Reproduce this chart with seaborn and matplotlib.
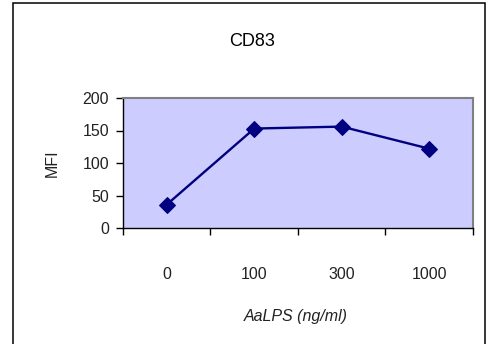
import matplotlib
matplotlib.use("Agg")
import matplotlib.pyplot as plt
import seaborn as sns
import pandas as pd
from matplotlib.patches import Rectangle

categories = ["0", "100", "300", "1000"]
mfi = [36, 153, 156, 122]
y_ticks = [0, 50, 100, 150, 200]

sns.set_theme(style="white")
plt.rcParams['font.family'] = ['Liberation Sans', 'DejaVu Sans']

W, H = 489, 344
fig = plt.figure(figsize=(W / 100, H / 100), dpi=100)
fig.patch.set_facecolor("white")

# figure frame
fig.patches.append(Rectangle((13 / W, -0.05), (485 - 13) / W, 1.05 - 3 / H,
                             transform=fig.transFigure, fill=False,
                             edgecolor="black", linewidth=1.1, zorder=0))

left, right, top, bottom = 123, 473, 98, 228
ax = fig.add_axes([left / W, 1 - bottom / H, (right - left) / W, (bottom - top) / H])
ax.set_facecolor("#CCCCFF")

df = pd.DataFrame({"dose": categories, "MFI": mfi})
sns.lineplot(data=df, x="dose", y="MFI", ax=ax, color="#000080", linewidth=1.7,
             marker="D", markersize=8, markeredgecolor="#000080")

ax.set_xlim(-0.5, len(categories) - 0.5)
ax.set_ylim(0, 200)
ax.set_yticks(y_ticks)
ax.set_xticks(range(len(categories)))
ax.set_xticklabels(categories)
ax.set_xticks([i - 0.5 for i in range(len(categories) + 1)], minor=True)
ax.tick_params(axis="x", which="major", length=0, pad=28, labelsize=11.5, colors="#222222")
ax.tick_params(axis="x", which="minor", length=5, width=1, direction="out", color="black", bottom=True)
ax.tick_params(axis="y", which="major", length=5, width=1, direction="out", left=True,
               color="black", pad=5, labelsize=11.5, labelcolor="#222222")
ax.set_xlabel("")
ax.set_ylabel("")
ax.grid(False)

for s in ["top", "right"]:
    ax.spines[s].set_visible(True)
    ax.spines[s].set_color("#808080")
    ax.spines[s].set_linewidth(1.5)
for s in ["left", "bottom"]:
    ax.spines[s].set_visible(True)
    ax.spines[s].set_color("black")
    ax.spines[s].set_linewidth(1.0)

fig.text(252 / W, 1 - 41 / H, "CD83", ha="center", va="center", fontsize=13, color="black")
fig.text(52 / W, 1 - 163 / H, "MFI", ha="center", va="center", rotation=90, fontsize=11.5, color="#222222")
fig.text(296 / W, 1 - 316 / H, "AaLPS (ng/ml)", ha="center", va="center", fontsize=11.5,
         style="italic", color="#222222")

fig.savefig("out.png", dpi=100)
